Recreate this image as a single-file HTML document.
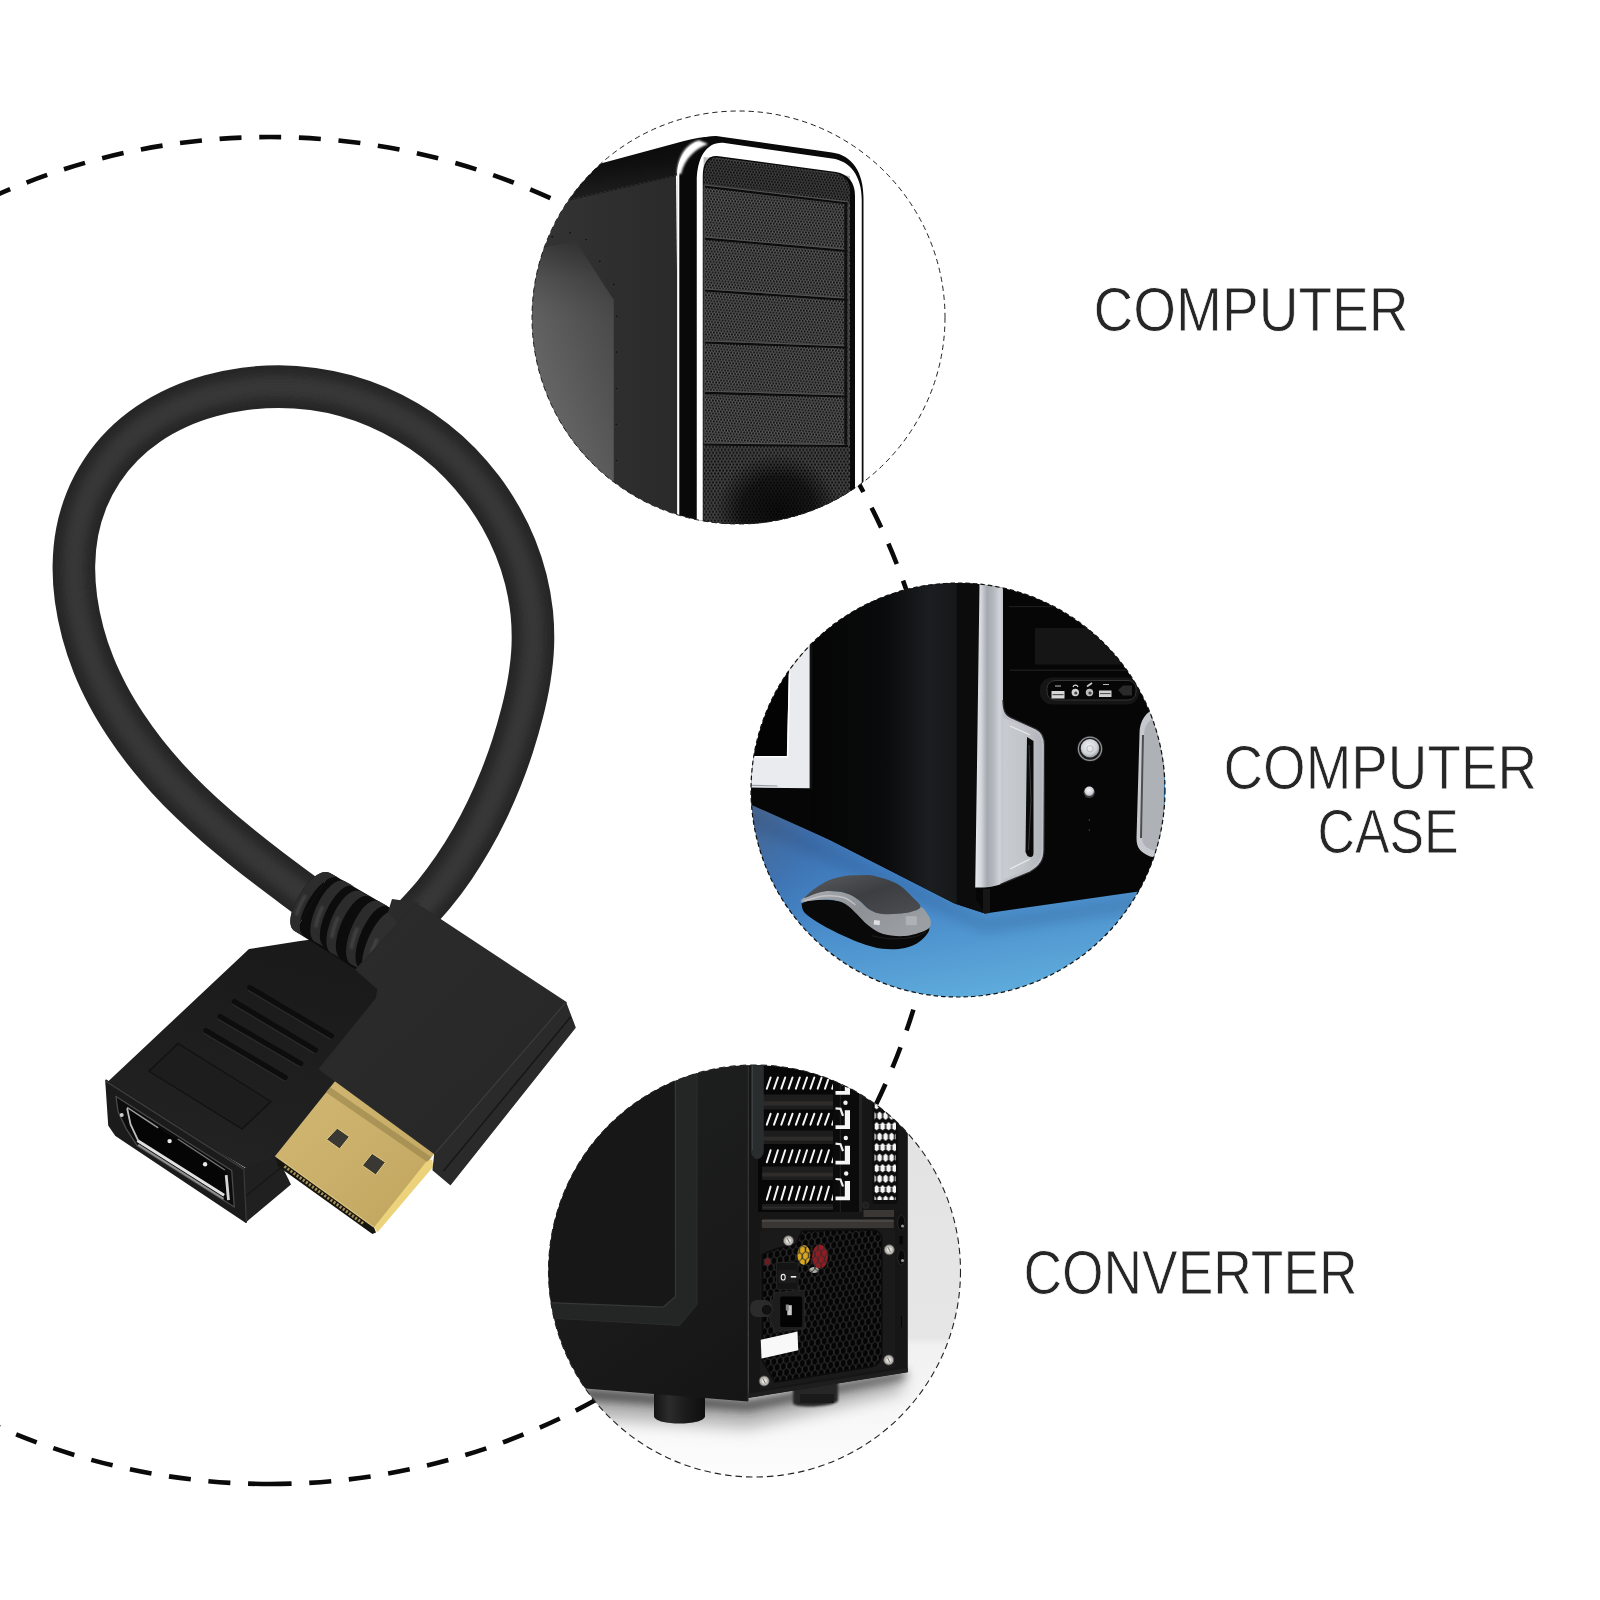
<!DOCTYPE html>
<html><head><meta charset="utf-8"><title>DisplayPort adapter</title>
<style>
html,body{margin:0;padding:0;background:#fff;}
body{width:1600px;height:1600px;overflow:hidden;font-family:"Liberation Sans",sans-serif;}
svg{display:block;}
</style></head><body>
<svg width="1600" height="1600" viewBox="0 0 1600 1600">
<defs>
<clipPath id="clip1"><circle cx="738.5" cy="317.5" r="206.5"/></clipPath>
<clipPath id="clip2"><circle cx="958.0" cy="790.0" r="207.0"/></clipPath>
<clipPath id="clip3"><circle cx="754.5" cy="1271.0" r="206.0"/></clipPath>
<filter id="blur2" x="-20%" y="-20%" width="140%" height="140%"><feGaussianBlur stdDeviation="2"/></filter>
<filter id="blur4" x="-20%" y="-20%" width="140%" height="140%"><feGaussianBlur stdDeviation="4"/></filter>
<filter id="blur8" x="-30%" y="-30%" width="160%" height="160%"><feGaussianBlur stdDeviation="8"/></filter>
<filter id="blur1" x="-20%" y="-20%" width="140%" height="140%"><feGaussianBlur stdDeviation="1"/></filter>
</defs>
<path d="M270.0,1484.0 A673.5,673.5 0 1 1 270.0,137.0 A673.5,673.5 0 1 1 270.0,1484.0" fill="none" stroke="#0a0a0a" stroke-width="4.6" stroke-dasharray="22 17.714" stroke-dashoffset="0"/>
<defs>
<linearGradient id="gold" x1="0" y1="0" x2="1" y2="1"><stop offset="0" stop-color="#d2b873"/><stop offset="0.5" stop-color="#c9af6a"/><stop offset="1" stop-color="#bfa45c"/></linearGradient>
<linearGradient id="maleTop" gradientUnits="userSpaceOnUse" x1="360" y1="950" x2="520" y2="1120"><stop offset="0" stop-color="#2b2b2b"/><stop offset="1" stop-color="#272727"/></linearGradient>
<linearGradient id="femTop" gradientUnits="userSpaceOnUse" x1="250" y1="950" x2="200" y2="1150"><stop offset="0" stop-color="#1a1a1a"/><stop offset="1" stop-color="#222222"/></linearGradient>
</defs>
<g id="cable">
<path d="M322.0,907.8 C317.5,904.5 303.9,894.5 294.9,887.8 C285.9,881.1 276.9,874.4 268.0,867.6 C259.1,860.8 250.2,853.8 241.5,846.8 C232.8,839.8 224.1,832.7 215.7,825.3 C207.3,817.9 199.0,810.3 190.9,802.5 C182.8,794.7 174.9,786.6 167.3,778.3 C159.7,769.9 152.3,761.3 145.3,752.4 C138.3,743.5 131.6,734.2 125.4,724.8 C119.2,715.3 113.3,705.7 108.0,695.7 C102.7,685.7 97.8,675.5 93.6,665.0 C89.4,654.5 85.7,643.6 82.8,632.6 C79.9,621.6 77.5,610.2 76.0,599.0 C74.5,587.8 73.7,576.3 73.9,565.1 C74.1,553.9 75.1,542.6 77.2,531.7 C79.3,520.8 82.5,510.1 86.6,499.9 C90.7,489.7 96.0,479.8 102.0,470.7 C108.0,461.6 115.0,452.9 122.8,445.1 C130.6,437.3 139.3,430.2 148.5,423.9 C157.7,417.6 167.8,412.1 178.1,407.4 C188.4,402.7 199.4,398.9 210.5,395.8 C221.6,392.7 233.1,390.3 244.5,388.8 C255.9,387.3 267.6,386.6 279.0,386.6 C290.4,386.6 301.8,387.5 313.0,389.0 C324.2,390.5 335.2,392.8 346.0,395.8 C356.8,398.8 367.4,402.5 377.6,406.9 C387.8,411.3 397.8,416.4 407.4,422.0 C417.0,427.6 426.3,433.9 435.1,440.8 C443.9,447.7 452.3,455.1 460.1,463.1 C467.9,471.1 475.2,479.7 482.0,488.7 C488.8,497.7 495.0,507.2 500.6,517.0 C506.2,526.8 511.2,537.1 515.4,547.5 C519.6,557.9 523.2,568.7 525.9,579.6 C528.6,590.5 530.6,601.6 531.8,612.7 C532.9,623.8 533.2,635.1 532.8,646.3 C532.4,657.5 531.0,668.7 529.2,679.8 C527.4,690.9 524.9,702.1 522.1,713.1 C519.3,724.1 516.1,735.2 512.6,746.0 C509.1,756.8 505.2,767.6 501.0,778.1 C496.8,788.6 492.3,799.0 487.4,809.2 C482.5,819.4 477.3,829.5 471.7,839.2 C466.1,848.9 460.2,858.4 453.9,867.6 C447.6,876.8 440.9,885.8 433.9,894.4 C426.8,903.0 415.3,915.1 411.6,919.2" fill="none" stroke="#272727" stroke-width="42.6" stroke-linecap="butt"/>
<path d="M322.0,907.8 C317.5,904.5 303.9,894.5 294.9,887.8 C285.9,881.1 276.9,874.4 268.0,867.6 C259.1,860.8 250.2,853.8 241.5,846.8 C232.8,839.8 224.1,832.7 215.7,825.3 C207.3,817.9 199.0,810.3 190.9,802.5 C182.8,794.7 174.9,786.6 167.3,778.3 C159.7,769.9 152.3,761.3 145.3,752.4 C138.3,743.5 131.6,734.2 125.4,724.8 C119.2,715.3 113.3,705.7 108.0,695.7 C102.7,685.7 97.8,675.5 93.6,665.0 C89.4,654.5 85.7,643.6 82.8,632.6 C79.9,621.6 77.5,610.2 76.0,599.0 C74.5,587.8 73.7,576.3 73.9,565.1 C74.1,553.9 75.1,542.6 77.2,531.7 C79.3,520.8 82.5,510.1 86.6,499.9 C90.7,489.7 96.0,479.8 102.0,470.7 C108.0,461.6 115.0,452.9 122.8,445.1 C130.6,437.3 139.3,430.2 148.5,423.9 C157.7,417.6 167.8,412.1 178.1,407.4 C188.4,402.7 199.4,398.9 210.5,395.8 C221.6,392.7 233.1,390.3 244.5,388.8 C255.9,387.3 267.6,386.6 279.0,386.6 C290.4,386.6 301.8,387.5 313.0,389.0 C324.2,390.5 335.2,392.8 346.0,395.8 C356.8,398.8 367.4,402.5 377.6,406.9 C387.8,411.3 397.8,416.4 407.4,422.0 C417.0,427.6 426.3,433.9 435.1,440.8 C443.9,447.7 452.3,455.1 460.1,463.1 C467.9,471.1 475.2,479.7 482.0,488.7 C488.8,497.7 495.0,507.2 500.6,517.0 C506.2,526.8 511.2,537.1 515.4,547.5 C519.6,557.9 523.2,568.7 525.9,579.6 C528.6,590.5 530.6,601.6 531.8,612.7 C532.9,623.8 533.2,635.1 532.8,646.3 C532.4,657.5 531.0,668.7 529.2,679.8 C527.4,690.9 524.9,702.1 522.1,713.1 C519.3,724.1 516.1,735.2 512.6,746.0 C509.1,756.8 505.2,767.6 501.0,778.1 C496.8,788.6 492.3,799.0 487.4,809.2 C482.5,819.4 477.3,829.5 471.7,839.2 C466.1,848.9 460.2,858.4 453.9,867.6 C447.6,876.8 440.9,885.8 433.9,894.4 C426.8,903.0 415.3,915.1 411.6,919.2" fill="none" stroke="#383838" stroke-width="22" stroke-linecap="butt" filter="url(#blur4)" opacity="0.95"/>
<polygon points="105.4,1084.0 249.0,949.0 300.0,941.0 368.0,932.0 400.0,985.0 330.0,1071.0 345.0,1090.0 285.0,1160.0 245.7,1168.0" fill="url(#femTop)"/>
<polygon points="106.2,1080.6 243.6,1168.4 246.0,1222.0 116.0,1135.1 109.2,1125.3" fill="#1b1b1b" stroke="#1b1b1b" stroke-width="2" stroke-linejoin="round"/>
<polyline points="106.2,1081.4 243.6,1169.2" fill="none" stroke="#3a3a3a" stroke-width="1.6"/>
<polygon points="243.5,1168.4 246.3,1222.0 291.0,1184.5 277.0,1156.0" fill="#202020"/>
<polyline points="243.8,1169.0 246.3,1221.0" fill="none" stroke="#3a3a3a" stroke-width="1.2"/>
<polyline points="246.0,1196.0 284.0,1165.0" fill="none" stroke="#161616" stroke-width="1.2"/>
<polygon points="116.0,1096.5 231.7,1170.5 234.3,1207.0 137.1,1145.6 126.1,1128.6 118.0,1111.5" fill="#0c0c0c" stroke="#4a4a4a" stroke-width="1.3" stroke-linejoin="round"/>
<polygon points="126.1,1106.6 225.7,1172.4 228.1,1200.9 138.8,1141.6 129.8,1124.5" fill="#050505"/>
<polyline points="137.4,1140.4 177.8,1165.9 224.1,1195.2" fill="none" stroke="#e2e2e2" stroke-width="3" stroke-linejoin="round"/>
<polyline points="138.1,1144.8 223.6,1198.9" fill="none" stroke="#8f8f8f" stroke-width="2"/>
<polyline points="226.2,1175.2 228.5,1200.1" fill="none" stroke="#d4d4d4" stroke-width="2.8"/>
<polyline points="127.1,1107.4 158.2,1127.8" fill="none" stroke="#9a9a9a" stroke-width="1.4"/>
<polyline points="127.1,1108.2 130.6,1124.5 138.3,1140.8" fill="none" stroke="#bdbdbd" stroke-width="1.8"/>
<polyline points="177.8,1139.1 224.9,1170.0" fill="none" stroke="#777" stroke-width="1.2"/>
<circle cx="169.6" cy="1141.1" r="2.2" fill="#e8e8e8"/>
<circle cx="205.1" cy="1164.3" r="2.2" fill="#e8e8e8"/>
<circle cx="121.7" cy="1115.1" r="2" fill="#d0d0d0"/>
<line x1="249.7" y1="987.3" x2="331.6" y2="1036.0" stroke="#0d0d0d" stroke-width="5" stroke-linecap="round"/>
<line x1="248.2" y1="990.5" x2="330.1" y2="1039.2" stroke="#2e2e2e" stroke-width="1" stroke-linecap="round"/>
<line x1="234.3" y1="1001.5" x2="315.5" y2="1050.0" stroke="#0d0d0d" stroke-width="5" stroke-linecap="round"/>
<line x1="232.8" y1="1004.7" x2="314.0" y2="1053.2" stroke="#2e2e2e" stroke-width="1" stroke-linecap="round"/>
<line x1="220.0" y1="1016.5" x2="300.8" y2="1063.5" stroke="#0d0d0d" stroke-width="5" stroke-linecap="round"/>
<line x1="218.5" y1="1019.7" x2="299.3" y2="1066.7" stroke="#2e2e2e" stroke-width="1" stroke-linecap="round"/>
<line x1="205.8" y1="1030.5" x2="285.3" y2="1077.5" stroke="#0d0d0d" stroke-width="5" stroke-linecap="round"/>
<line x1="204.3" y1="1033.7" x2="283.8" y2="1080.7" stroke="#2e2e2e" stroke-width="1" stroke-linecap="round"/>
<polygon points="178.0,1043.5 149.0,1071.2 242.0,1129.0 271.0,1101.5" fill="#1d1d1d" stroke="#111" stroke-width="1.2"/>
<polygon points="275.4,1155.7 277.6,1165.9 372.4,1233.9 376.0,1232.4 373.8,1226.9" fill="#17150f"/>
<polygon points="338.0,1077.4 439.6,1147.2 431.4,1157.3 374.6,1227.2 275.4,1155.7" fill="url(#gold)"/>
<polygon points="427.4,1160.2 432.2,1159.4 433.2,1166.8 377.3,1232.4 374.2,1227.2" fill="#ecd27a"/>
<polyline points="284.4,1166.4 364.0,1224.1" fill="none" stroke="#a8935a" stroke-width="3" stroke-dasharray="2.1 1.7"/>
<polyline points="275.4,1155.9 373.8,1227.0" fill="none" stroke="#d9c27c" stroke-width="1.2"/>
<polygon points="329.9,1087.1 431.4,1157.3 427.4,1161.9 325.8,1092.3" fill="#8f7c45" opacity="0.55"/>
<polygon points="337.2,1128.2 349.4,1136.7 339.6,1148.9 326.6,1139.5" fill="#3a3833" stroke="#e2cc85" stroke-width="1" stroke-linejoin="round"/>
<polygon points="372.1,1153.4 385.4,1162.2 375.7,1174.9 362.4,1165.5" fill="#3a3833" stroke="#e2cc85" stroke-width="1" stroke-linejoin="round"/>
<polygon points="330.0,873.1 396.5,911.5 416.5,921.5 388.0,987.0 368.0,977.0 295.0,931.2" fill="#0c0c0c"/>
<path d="M330.0,873.1 C312.9,862.8 277.9,920.9 295.0,931.2 Z" fill="#0c0c0c"/>
<path d="M345.0,881.2 C326.9,872.8 298.1,934.0 316.2,942.5 Z" fill="#0c0c0c"/>
<path d="M360.0,891.2 C341.7,883.2 314.2,945.7 332.5,953.8 Z" fill="#0c0c0c"/>
<path d="M378.8,901.2 C360.3,893.6 334.0,957.4 352.5,965.0 Z" fill="#0c0c0c"/>
<path d="M396.5,911.5 C378.2,903.5 349.7,969.0 368.0,977.0 Z" fill="#0c0c0c"/>
<path d="M330.0,873.1 C312.9,862.8 277.9,920.9 295.0,931.2 L304.5,936.4 C287.4,926.1 322.4,867.9 339.5,878.3 Z" fill="#2c2c2c"/>
<path d="M334.8,875.7 C317.6,865.4 282.6,923.5 299.8,933.8" fill="none" stroke="#4a4a4a" stroke-width="3.2" stroke-dasharray="0 38 22 200" filter="url(#blur1)" opacity="0.8"/>
<path d="M345.0,881.2 C326.9,872.8 298.1,934.0 316.2,942.5 L325.8,947.7 C307.7,939.2 336.4,877.9 354.5,886.4 Z" fill="#2c2c2c"/>
<path d="M349.8,883.8 C331.7,875.3 302.9,936.6 321.0,945.1" fill="none" stroke="#4a4a4a" stroke-width="3.2" stroke-dasharray="0 38 22 200" filter="url(#blur1)" opacity="0.8"/>
<path d="M360.0,891.2 C341.7,883.2 314.2,945.7 332.5,953.8 L342.0,958.9 C323.7,950.9 351.2,888.4 369.5,896.4 Z" fill="#2c2c2c"/>
<path d="M364.8,893.8 C346.5,885.8 319.0,948.3 337.3,956.3" fill="none" stroke="#4a4a4a" stroke-width="3.2" stroke-dasharray="0 38 22 200" filter="url(#blur1)" opacity="0.8"/>
<path d="M378.8,901.2 C360.3,893.6 334.0,957.4 352.5,965.0 L362.0,970.2 C343.5,962.5 369.8,898.8 388.3,906.4 Z" fill="#2c2c2c"/>
<path d="M383.5,903.8 C365.0,896.2 338.8,960.0 357.3,967.6" fill="none" stroke="#4a4a4a" stroke-width="3.2" stroke-dasharray="0 38 22 200" filter="url(#blur1)" opacity="0.8"/>
<path d="M396.5,911.5 C378.2,903.5 349.7,969.0 368.0,977.0 L394.5,991.3 C376.1,983.4 404.6,917.9 423.0,925.8 Z" fill="#2f2f2f"/>
<path d="M403.6,915.3 C385.2,907.3 356.7,972.8 375.1,980.8" fill="none" stroke="#4a4a4a" stroke-width="3.2" stroke-dasharray="0 38 22 200" filter="url(#blur1)" opacity="0.8"/>
<polygon points="392,899 420,903 400,925 388,912" fill="#2b2b2b"/>
<polygon points="565.6,1002.7 575.0,1027.6 450.4,1184.4 433.2,1170.0 435.0,1153.5" fill="#2a2a2a" stroke="#2a2a2a" stroke-width="1.5" stroke-linejoin="round"/>
<polyline points="570.5,1017.0 443.5,1171.0" fill="none" stroke="#171717" stroke-width="1.5"/>
<path d="M412,908.4 Q416,903.6 421.2,907.4 L565.6,1002.7 L435,1153.5 L319.75,1069 L376.5,999 L378.5,989 L356.5,969.4 Z" fill="url(#maleTop)" stroke="#2a2a2a" stroke-width="2" stroke-linejoin="round"/>
<polyline points="565.0,1003.5 435.5,1153.0" fill="none" stroke="#3b3b3b" stroke-width="1.3"/>
</g>
<defs>
<pattern id="mesh1" width="3" height="5.2" patternUnits="userSpaceOnUse" patternTransform="rotate(6)"><rect width="3" height="5.2" fill="#5c5c5c"/><circle cx="0.75" cy="1.3" r="1.05" fill="#0c0c0c"/><circle cx="2.25" cy="3.9" r="1.05" fill="#0c0c0c"/></pattern>
<pattern id="mesh1b" width="3.4" height="5.9" patternUnits="userSpaceOnUse"><rect width="3.4" height="5.9" fill="#4e4e4e"/><circle cx="0.85" cy="1.475" r="1.25" fill="#111"/><circle cx="2.55" cy="4.425" r="1.25" fill="#111"/></pattern>
<linearGradient id="c1side" x1="0" y1="0" x2="1" y2="0"><stop offset="0" stop-color="#353535"/><stop offset="0.6" stop-color="#2e2e2e"/><stop offset="1" stop-color="#2a2a2a"/></linearGradient>
<linearGradient id="c1top" x1="0" y1="0" x2="0.25" y2="1"><stop offset="0" stop-color="#040404"/><stop offset="0.5" stop-color="#101010"/><stop offset="0.85" stop-color="#1e1e1e"/><stop offset="1" stop-color="#262626"/></linearGradient>
<linearGradient id="c1light" gradientUnits="userSpaceOnUse" x1="530" y1="340" x2="616" y2="310"><stop offset="0" stop-color="#646464"/><stop offset="0.5" stop-color="#565656"/><stop offset="1" stop-color="#484848"/></linearGradient>
<linearGradient id="c1lightTop" gradientUnits="userSpaceOnUse" x1="0" y1="243" x2="0" y2="320"><stop offset="0" stop-color="#000" stop-opacity="0.34"/><stop offset="0.45" stop-color="#000" stop-opacity="0.12"/><stop offset="0.8" stop-color="#000" stop-opacity="0.025"/><stop offset="1" stop-color="#000" stop-opacity="0"/></linearGradient>
<radialGradient id="c1fan" cx="0.5" cy="0.5" r="0.5"><stop offset="0" stop-color="#000" stop-opacity="0.8"/><stop offset="0.6" stop-color="#000" stop-opacity="0.6"/><stop offset="1" stop-color="#000" stop-opacity="0"/></radialGradient>
</defs>
<circle cx="738.5" cy="317.5" r="206.5" fill="#fff"/>
<g clip-path="url(#clip1)">
<polygon points="520,211 676,175.5 680,560 520,560" fill="url(#c1side)"/>
<path d="M520,185 L560,174.6 L684,141 Q703,135.5 722,137 L700,150 L680,176 L676,175.5 L520,211 Z" fill="url(#c1top)"/>
<line x1="520" y1="211.3" x2="676" y2="175.7" stroke="#1b1b1b" stroke-width="1"/>
<polygon points="520,251.5 544,247.5 576.25,242.25 613.75,300 613.75,560 520,560" fill="url(#c1light)"/>
<polygon points="520,251.5 544,247.5 576.25,242.25 613.75,300 613.75,320 520,320" fill="url(#c1lightTop)"/>
<circle cx="552.2" cy="236.7" r="1.7" fill="#1a1a1a" stroke="#444" stroke-width="0.6"/>
<circle cx="570.2" cy="232.8" r="1.7" fill="#1a1a1a" stroke="#444" stroke-width="0.6"/>
<circle cx="586.0" cy="239.6" r="1.7" fill="#1a1a1a" stroke="#444" stroke-width="0.6"/>
<circle cx="599.8" cy="261.3" r="1.7" fill="#1a1a1a" stroke="#444" stroke-width="0.6"/>
<circle cx="613.8" cy="284.5" r="1.7" fill="#1a1a1a" stroke="#444" stroke-width="0.6"/>
<circle cx="616.5" cy="316.2" r="1.7" fill="#1a1a1a" stroke="#444" stroke-width="0.6"/>
<circle cx="616.5" cy="352.2" r="1.7" fill="#1a1a1a" stroke="#444" stroke-width="0.6"/>
<circle cx="616.5" cy="388.5" r="1.7" fill="#1a1a1a" stroke="#444" stroke-width="0.6"/>
<circle cx="616.5" cy="424.5" r="1.7" fill="#1a1a1a" stroke="#444" stroke-width="0.6"/>
<circle cx="616.5" cy="460.5" r="1.7" fill="#1a1a1a" stroke="#444" stroke-width="0.6"/>
<circle cx="616.5" cy="496.5" r="1.7" fill="#1a1a1a" stroke="#444" stroke-width="0.6"/>
<path d="M677,560 L677,172 C677,150 692,136 716,136 L832,152.5 C852,155 863.5,172 863.5,198 L863.5,560 Z" fill="#090909"/>
<path d="M678.2,560 L678.2,172 C679,160 686,149 697,143" fill="none" stroke="#fff" stroke-width="2.2"/>
<path d="M696.75,560 L696.75,182 C696.75,158 706,142 723,142.8 L832,158.6 C850,161 861.75,176 861.75,200 L861.75,560 Z" fill="#fff"/>
<path d="M677.3,174 C677.6,156 686,144 699,140.2 L708,144 C695,149 685,158 681,174 Z" fill="#fff" filter="url(#blur1)"/>
<path d="M702.75,560 L702.75,176 C702.75,163 708,155.4 717,156 L836,172 C848,174 855,182 855,196 L855,560 Z" fill="#0a0a0a"/>
<path d="M703.6,560 L703.6,177 C703.6,165 708.5,157 717,157.4 L834,173 C844,174.6 850,181 850,192 L850,560 Z" fill="url(#mesh1)"/>
<polygon points="703.6,157 850,176 850,202.2 703.6,185.2" fill="#000" opacity="0.25"/>
<polygon points="703.6,445.2 850,446.8 850,560 703.6,560" fill="url(#mesh1b)"/>
<ellipse cx="778" cy="512" rx="62" ry="58" fill="url(#c1fan)"/>
<polygon points="703.6,445.2 850,446.8 850,560 703.6,560" fill="#000" opacity="0.06"/>
<line x1="704.3" y1="186.4" x2="848.2" y2="203.4" stroke="#0c0c0c" stroke-width="2.4"/>
<line x1="704.3" y1="184.8" x2="848.2" y2="201.8" stroke="#505050" stroke-width="1.3"/>
<line x1="704.3" y1="238.5" x2="848.2" y2="250.9" stroke="#0c0c0c" stroke-width="2.4"/>
<line x1="704.3" y1="236.9" x2="848.2" y2="249.3" stroke="#505050" stroke-width="1.3"/>
<line x1="704.3" y1="290.4" x2="848.2" y2="299.7" stroke="#0c0c0c" stroke-width="2.4"/>
<line x1="704.3" y1="288.8" x2="848.2" y2="298.1" stroke="#505050" stroke-width="1.3"/>
<line x1="704.3" y1="342.4" x2="848.2" y2="347.4" stroke="#0c0c0c" stroke-width="2.4"/>
<line x1="704.3" y1="340.9" x2="848.2" y2="345.8" stroke="#505050" stroke-width="1.3"/>
<line x1="704.3" y1="392.7" x2="848.2" y2="396.4" stroke="#0c0c0c" stroke-width="2.4"/>
<line x1="704.3" y1="391.1" x2="848.2" y2="394.9" stroke="#505050" stroke-width="1.3"/>
<line x1="704.3" y1="444.4" x2="848.2" y2="445.9" stroke="#0c0c0c" stroke-width="2.4"/>
<line x1="704.3" y1="442.9" x2="848.2" y2="444.4" stroke="#505050" stroke-width="1.3"/>
<line x1="704.3" y1="185.2" x2="704.3" y2="443.2" stroke="#454545" stroke-width="1.2"/>
<line x1="848.2" y1="202.2" x2="848.2" y2="444.8" stroke="#454545" stroke-width="1.2"/>
<line x1="845.8" y1="202.2" x2="845.8" y2="444.8" stroke="#111" stroke-width="3"/>
</g>
<circle cx="738.5" cy="317.5" r="206.5" fill="none" stroke="#222" stroke-width="1" stroke-dasharray="5.3 3.8"/>
<defs>
<linearGradient id="desk" gradientUnits="userSpaceOnUse" x1="900" y1="800" x2="930" y2="1000"><stop offset="0" stop-color="#3a70b4"/><stop offset="0.45" stop-color="#4384c6"/><stop offset="1" stop-color="#5eaadb"/></linearGradient>
<linearGradient id="deskL" gradientUnits="userSpaceOnUse" x1="750" y1="800" x2="860" y2="900"><stop offset="0" stop-color="#4a6488" stop-opacity="0.95"/><stop offset="0.5" stop-color="#3f6ea8" stop-opacity="0.6"/><stop offset="1" stop-color="#4384c6" stop-opacity="0"/></linearGradient>
<linearGradient id="silver" gradientUnits="userSpaceOnUse" x1="976" y1="0" x2="1004" y2="0"><stop offset="0" stop-color="#e3e6ea"/><stop offset="0.18" stop-color="#d4d7dc"/><stop offset="0.4" stop-color="#a4a8af"/><stop offset="0.62" stop-color="#b4b8be"/><stop offset="0.85" stop-color="#d0d3d8"/><stop offset="1" stop-color="#bcc0c6"/></linearGradient>
<linearGradient id="handle" gradientUnits="userSpaceOnUse" x1="1000" y1="0" x2="1045" y2="0"><stop offset="0" stop-color="#c9ccd1"/><stop offset="0.5" stop-color="#c2c6cb"/><stop offset="1" stop-color="#aeb2b8"/></linearGradient>
<linearGradient id="sideG" gradientUnits="userSpaceOnUse" x1="810" y1="0" x2="980" y2="0"><stop offset="0" stop-color="#050505"/><stop offset="0.45" stop-color="#0a0b0c"/><stop offset="0.7" stop-color="#1b1d20"/><stop offset="0.86" stop-color="#16181a"/><stop offset="0.865" stop-color="#0b0b0c"/><stop offset="1" stop-color="#0d0d0e"/></linearGradient>
<radialGradient id="pbtn" cx="0.45" cy="0.4" r="0.6"><stop offset="0" stop-color="#f2f3f5"/><stop offset="0.7" stop-color="#cfd2d6"/><stop offset="1" stop-color="#9a9da2"/></radialGradient>
<linearGradient id="mouseTop" x1="0" y1="0" x2="1" y2="1"><stop offset="0" stop-color="#5a5d61"/><stop offset="0.5" stop-color="#3c3e41"/><stop offset="1" stop-color="#4b4d50"/></linearGradient>
<linearGradient id="mouseBand" x1="0" y1="0" x2="1" y2="0.6"><stop offset="0" stop-color="#a9acb0"/><stop offset="0.5" stop-color="#8d9094"/><stop offset="1" stop-color="#9b9ea2"/></linearGradient>
</defs>
<circle cx="958.0" cy="790.0" r="207.0" fill="#fff"/>
<g clip-path="url(#clip2)">
<rect x="740" y="780" width="440" height="230" fill="url(#desk)"/>
<rect x="740" y="780" width="200" height="200" fill="url(#deskL)"/>
<polygon points="745,806 985,918 1180,890 1180,905 985,934 745,826" fill="#1a2f55" opacity="0.12" filter="url(#blur4)"/>
<polygon points="740,560 1180,560 1180,885.5 1136.5,891.75 985,913.5 954.5,903.5 830,840 745,802 740,800" fill="#060606"/>
<polygon points="811,560 979,560 976,900 985,913.5 954.5,903.5 830,840 811,831" fill="url(#sideG)"/>
<polygon points="983,889 990,889 990,913 985,913.5 983,912.8" fill="#161616"/>
<polygon points="740.0,645.0 809.8,645.0 809.8,788.2 740.0,787.5" fill="#e9ebef"/>
<polygon points="740.0,645.0 788.8,672.0 786.8,756.0 740.0,756.0" fill="#030303"/>
<polygon points="740.0,630.0 789.5,630.0 788.8,673.5 740.0,673.5" fill="#030303"/>
<polyline points="740.0,756.8 787.7,756.8 789.5,673.5" fill="none" stroke="#fff" stroke-width="1.5"/>
<polyline points="740.0,785.2 777.5,786.0" fill="none" stroke="#9a9da2" stroke-width="1.2"/>
<polygon points="809.8,643.5 812.3,643.5 812.3,789.3 809.8,788.7" fill="#111"/>
<path d="M979.8,560 L1003,560 L1003,700 C1003,712 1006,716 1014,719 L1036,729 C1042,732 1044.5,737 1044.5,745 L1044,850 C1044,860 1040,866 1030,872 L1000,884.5 C994,886.5 988,887.5 984,887.5 L975.2,887.5 L976.8,780 Z" fill="url(#silver)"/>
<path d="M1003,718 L1014,722 L1034,731 C1040,734 1042,738 1042,745 L1041.5,850 C1041.5,858 1038,863 1030,868 L1003,880 Z" fill="url(#handle)"/>
<path d="M1010,726 L1030,735" stroke="#e9ebee" stroke-width="1.2" fill="none"/>
<path d="M1010,869 L1030,859" stroke="#e9ebee" stroke-width="1.2" fill="none"/>
<path d="M1027,737 L1033.5,741 L1033.5,853 C1033.5,857 1031,858 1027.5,856 L1025.5,852 Z" fill="#0a0a0a"/>
<path d="M1029,745 L1031,800 L1028.5,850" stroke="#3a3a3a" stroke-width="1" fill="none"/>
<path d="M1003,700 C1003,712 1006,716 1014,719 L1036,729 C1042,732 1044.5,737 1044.5,745 L1044,850 C1044,860 1040,866 1030,872 L1000,884.5" fill="none" stroke="#2a2a2a" stroke-width="1.2"/>
<rect x="1009" y="606" width="180" height="1.2" fill="#1c1c1c"/>
<rect x="1035" y="628" width="90" height="36.5" fill="#151515"/>
<rect x="1010" y="669.5" width="180" height="1.5" fill="#1a1a1a"/>
<rect x="1040" y="677.5" width="99" height="27" rx="12" fill="#151515"/>
<rect x="1047" y="680.5" width="89" height="19.5" rx="8" fill="#060606" stroke="#3a3a3a" stroke-width="0.9"/>
<rect x="1051.5" y="691" width="13" height="7.5" fill="#d8d8d8"/><rect x="1052.5" y="694" width="11" height="1.2" fill="#555"/>
<rect x="1099" y="690.5" width="12.5" height="6.5" fill="#d0d0d0"/><rect x="1100" y="693" width="10.5" height="1.1" fill="#555"/>
<circle cx="1075.3" cy="692.5" r="3.7" fill="#cfcfcf"/><circle cx="1075.8" cy="693" r="1.6" fill="#444"/>
<circle cx="1089.5" cy="692.5" r="3.7" fill="#bdbdbd"/><circle cx="1090" cy="693" r="1.6" fill="#444"/>
<path d="M1073,687 a2.6,2.6 0 0 1 5,0" stroke="#ddd" stroke-width="1.1" fill="none"/>
<path d="M1087,686.5 l5,-3.5" stroke="#ccc" stroke-width="1.6" fill="none"/>
<path d="M1055,686 l6,0 M1103,684.5 l6,0" stroke="#bbb" stroke-width="1" fill="none"/>
<polygon points="1118,690 1123,685.5 1132,685.5 1132,695.5 1123,695.5" fill="#2a2a2a"/>
<circle cx="1090" cy="748.8" r="13" fill="#1d1d1d"/>
<circle cx="1090" cy="748.8" r="11.6" fill="none" stroke="#8e9196" stroke-width="1.3"/>
<circle cx="1090" cy="748.3" r="9.2" fill="url(#pbtn)"/>
<circle cx="1090" cy="748.8" r="3.2" fill="none" stroke="#b0b3b7" stroke-width="0.8"/>
<circle cx="1089.3" cy="792.3" r="5.8" fill="#3a3a3a"/>
<circle cx="1089.3" cy="791.3" r="4.8" fill="url(#pbtn)"/>
<circle cx="1089.3" cy="820" r="0.7" fill="#555"/><circle cx="1089.3" cy="830" r="0.8" fill="#444"/>
<path d="M1180,706 L1158,708 C1146,711 1139.5,720 1139.5,734 L1136.5,838 C1136.5,848 1140,852 1150,856.5 L1180,862 Z" fill="#c5c8cd"/>
<path d="M1180,716 L1156,718 C1148,720 1144,726 1144,736 L1142,836 C1142,843 1144,847 1152,850 L1180,855 Z" fill="#aeb2b7"/>
<path d="M1143,735 L1141,838" stroke="#4b4d50" stroke-width="2" fill="none"/>
<polygon points="1160,700 1180,700 1180,870 1163,866 1164,780" fill="#2f83c9"/>
<path d="M801.5,903.5 C802.2,905.2 801.2,909.7 806.0,914.0 C810.8,918.3 821.0,924.5 830.0,929.3 C839.0,934.1 851.2,939.5 860.0,942.8 C868.8,946.0 875.0,947.9 882.5,948.8 C890.0,949.7 898.8,949.3 905.0,948.0 C911.2,946.8 916.0,944.5 920.0,941.3 C924.0,938.1 929.3,932.5 929.3,929.0 C929.3,925.5 929.0,922.5 920.0,920.0 C911.0,917.5 887.5,917.0 875.0,914.0 C862.5,911.0 855.0,904.4 845.0,902.0 C835.0,899.6 822.2,899.5 815.0,899.8 C807.8,900.0 803.8,902.9 801.5,903.5 Z" fill="#090909"/>
<path d="M800.5,902.3 C801.1,901.5 800.6,899.4 804.5,897.5 C808.4,895.6 817.2,892.0 824.0,891.2 C830.8,890.4 839.4,891.4 845.0,892.7 C850.6,894.1 853.8,896.5 857.8,899.3 C861.8,902.0 864.9,906.8 869.0,909.2 C873.1,911.6 876.5,913.1 882.5,913.7 C888.5,914.3 898.8,913.9 905.0,912.8 C911.2,911.7 916.1,906.5 920.0,907.0 C923.9,907.4 926.6,912.6 928.4,915.5 C930.2,918.4 931.4,922.0 930.8,924.5 C930.2,927.0 929.1,928.9 924.8,930.8 C920.5,932.7 912.0,935.5 905.0,936.0 C898.0,936.5 888.8,935.7 882.5,933.8 C876.2,931.9 871.8,928.0 867.5,924.8 C863.2,921.5 860.8,917.8 857.0,914.3 C853.2,910.8 849.5,906.2 845.0,903.8 C840.5,901.3 835.0,900.2 830.0,899.6 C825.0,899.0 819.9,899.8 815.0,900.2 C810.1,900.7 802.9,901.9 800.5,902.3 Z" fill="url(#mouseBand)"/>
<path d="M803.8,898.2 C805.6,896.6 810.6,891.6 815.0,888.5 C819.4,885.4 825.0,881.9 830.0,879.8 C835.0,877.7 840.0,876.8 845.0,876.0 C850.0,875.3 855.0,875.3 860.0,875.3 C865.0,875.3 868.8,874.6 875.0,876.0 C881.2,877.5 891.2,880.5 897.5,884.0 C903.8,887.5 908.7,893.3 912.5,897.2 C916.3,901.1 921.5,904.8 920.3,907.4 C919.0,910.0 911.3,911.9 905.0,913.0 C898.7,914.0 888.5,914.5 882.5,913.9 C876.5,913.2 873.4,911.8 869.3,909.4 C865.2,907.0 862.1,902.2 858.0,899.5 C854.0,896.7 850.7,894.2 845.0,892.9 C839.3,891.5 830.9,890.5 824.0,891.4 C817.1,892.2 807.1,897.1 803.8,898.2 Z" fill="url(#mouseTop)"/>
<path d="M804.5,900.8 C807.8,900.0 817.5,896.5 824.0,896.0 C830.5,895.5 838.2,896.0 843.5,897.5 C848.8,899.0 853.5,903.8 855.5,905.0" fill="none" stroke="#c9ccd0" stroke-width="1.4" opacity="0.8"/>
<rect x="874.2" y="920.0" width="6" height="4.5" fill="#e4e6e9" opacity="0.9" transform="rotate(8 874.2 920.0)"/>
<rect x="905.8" y="916.2" width="11" height="9" fill="#b5b8bc" opacity="0.75"/>
<path d="M872.0,935.8 C875.0,936.2 883.2,938.5 890.0,938.8 C896.8,939.0 906.5,938.4 912.5,937.2 C918.5,936.1 923.8,932.9 926.0,932.0" fill="none" stroke="#2a2a2a" stroke-width="1" opacity="0.7"/>
</g>
<circle cx="958.0" cy="790.0" r="207.0" fill="none" stroke="#111" stroke-width="1.2" stroke-dasharray="4.5 3"/>
<defs>
<linearGradient id="c3bg" x1="0" y1="0" x2="0" y2="1"><stop offset="0" stop-color="#e2e2e2"/><stop offset="0.66" stop-color="#e6e6e6"/><stop offset="0.68" stop-color="#f1f1f1"/><stop offset="1" stop-color="#fdfdfd"/></linearGradient>
<linearGradient id="c3side" gradientUnits="userSpaceOnUse" x1="550" y1="1100" x2="750" y2="1400"><stop offset="0" stop-color="#1e1f1f"/><stop offset="0.6" stop-color="#1a1a1a"/><stop offset="1" stop-color="#151515"/></linearGradient>
<linearGradient id="c3shadow" gradientUnits="userSpaceOnUse" x1="0" y1="1392" x2="0" y2="1432"><stop offset="0" stop-color="#4a4a4a" stop-opacity="0.9"/><stop offset="0.4" stop-color="#8a8a8a" stop-opacity="0.55"/><stop offset="1" stop-color="#e8e8e8" stop-opacity="0"/></linearGradient>
<linearGradient id="foot" x1="0" y1="0" x2="1" y2="0"><stop offset="0" stop-color="#141414"/><stop offset="0.3" stop-color="#2c2c2c"/><stop offset="0.6" stop-color="#1c1c1c"/><stop offset="1" stop-color="#0e0e0e"/></linearGradient>
<pattern id="hexp" width="6.30" height="12.60" patternUnits="userSpaceOnUse" patternTransform="translate(796,1229) skewY(-9)"><path d="M0,0 H6.30 V12.60 H0 Z M3.15,-0.65 L5.60,1.25 L5.60,5.05 L3.15,6.95 L0.70,5.05 L0.70,1.25 Z M0.00,5.65 L2.45,7.55 L2.45,11.35 L0.00,13.25 L-2.45,11.35 L-2.45,7.55 Z M6.30,5.65 L8.75,7.55 L8.75,11.35 L6.30,13.25 L3.85,11.35 L3.85,7.55 Z M0.00,-6.95 L2.45,-5.05 L2.45,-1.25 L0.00,0.65 L-2.45,-1.25 L-2.45,-5.05 Z M6.30,-6.95 L8.75,-5.05 L8.75,-1.25 L6.30,0.65 L3.85,-1.25 L3.85,-5.05 Z M3.15,11.95 L5.60,13.85 L5.60,17.65 L3.15,19.55 L0.70,17.65 L0.70,13.85 Z" fill="#2d2d2d" fill-rule="evenodd"/></pattern>
<pattern id="hexw" width="6.00" height="21.00" patternUnits="userSpaceOnUse" patternTransform="translate(873.6,1100)"><rect width="6.00" height="21.00" fill="#0d0d0d"/><path d="M3.00,1.05 L5.25,3.15 L5.25,7.35 L3.00,9.45 L0.75,7.35 L0.75,3.15 Z" fill="#f6f6f6"/><path d="M0.00,11.55 L2.25,13.65 L2.25,17.85 L0.00,19.95 L-2.25,17.85 L-2.25,13.65 Z" fill="#f6f6f6"/><path d="M6.00,11.55 L8.25,13.65 L8.25,17.85 L6.00,19.95 L3.75,17.85 L3.75,13.65 Z" fill="#f6f6f6"/><path d="M0.00,-9.45 L2.25,-7.35 L2.25,-3.15 L0.00,-1.05 L-2.25,-3.15 L-2.25,-7.35 Z" fill="#f6f6f6"/><path d="M6.00,-9.45 L8.25,-7.35 L8.25,-3.15 L6.00,-1.05 L3.75,-3.15 L3.75,-7.35 Z" fill="#f6f6f6"/><path d="M3.00,22.05 L5.25,24.15 L5.25,28.35 L3.00,30.45 L0.75,28.35 L0.75,24.15 Z" fill="#f6f6f6"/></pattern>
</defs>
<circle cx="754.5" cy="1271.0" r="206.0" fill="#fff"/>
<g clip-path="url(#clip3)">
<rect x="540" y="1060" width="430" height="420" fill="url(#c3bg)"/>
<polygon points="575,1386 748,1400 906,1371 900,1392 748,1428 590,1418" fill="#777" opacity="0.55" filter="url(#blur8)"/>
<polygon points="580,1387 748,1400 906,1371 904,1379 748,1411 585,1400" fill="#2a2a2a" opacity="0.7" filter="url(#blur4)"/>
<path d="M654,1392 L705,1394 L705,1416 C705,1421 692,1423.5 679.5,1423.5 C667,1423.5 654,1421 654,1416 Z" fill="url(#foot)"/>
<path d="M793,1384 L838,1382 L838,1400 C838,1407 793,1409 793,1403 Z" fill="#262626" filter="url(#blur1)"/>
<rect x="800" y="1394" width="34" height="9" fill="#1a1a1a"/>
<polygon points="540,1060 748.5,1060 748,1401.5 585,1388.5 540,1385" fill="url(#c3side)"/>
<polygon points="697.0,1060.0 697.0,1304.5 679.5,1325.5 540.0,1317.2 540.0,1302.2 663.0,1307.2 675.5,1296.7 675.5,1060.0" fill="#242525"/>
<polygon points="540.0,1060.0 674.4,1060.0 674.4,1295.8 662.2,1306.0 540.0,1301.2" fill="#171717"/>
<polyline points="675.5,1060.0 675.5,1296.7 663.0,1307.2 540.0,1302.2" fill="none" stroke="#363737" stroke-width="1.2"/>
<polyline points="697.0,1060.0 697.0,1304.5 679.5,1325.5 540.0,1317.5" fill="none" stroke="#2c2c2c" stroke-width="1"/>
<line x1="748.3" y1="1060" x2="748" y2="1401" stroke="#2e2e2e" stroke-width="1.2"/>
<polygon points="748.8,1060 907.8,1060 907.8,1372 748.4,1397.8" fill="#161616"/>
<rect x="758" y="1066" width="101" height="146" fill="#070707"/>
<rect x="762.2" y="1094.5" width="71.2" height="15.0" fill="#1d1d1d"/>
<rect x="762.2" y="1101.2" width="71.2" height="4.5" fill="#2d2c2b"/>
<rect x="762.2" y="1130.5" width="71.2" height="13.5" fill="#1d1d1d"/>
<rect x="762.2" y="1136.6" width="71.2" height="4.0" fill="#2d2c2b"/>
<rect x="762.2" y="1166.5" width="71.2" height="13.5" fill="#1d1d1d"/>
<rect x="762.2" y="1172.6" width="71.2" height="4.0" fill="#2d2c2b"/>
<rect x="762.2" y="1204.0" width="71.2" height="6.0" fill="#1d1d1d"/>
<rect x="762.2" y="1206.7" width="71.2" height="1.8" fill="#2d2c2b"/>
<line x1="770.6" y1="1077.5" x2="766.8" y2="1088.7" stroke="#f5f5f5" stroke-width="2" stroke-linecap="round"/>
<line x1="777.9" y1="1077.5" x2="774.0" y2="1088.7" stroke="#f5f5f5" stroke-width="2" stroke-linecap="round"/>
<line x1="785.2" y1="1077.5" x2="781.3" y2="1088.7" stroke="#f5f5f5" stroke-width="2" stroke-linecap="round"/>
<line x1="792.5" y1="1077.5" x2="788.6" y2="1088.7" stroke="#f5f5f5" stroke-width="2" stroke-linecap="round"/>
<line x1="799.8" y1="1077.5" x2="795.9" y2="1088.7" stroke="#f5f5f5" stroke-width="2" stroke-linecap="round"/>
<line x1="807.0" y1="1077.5" x2="803.1" y2="1088.7" stroke="#f5f5f5" stroke-width="2" stroke-linecap="round"/>
<line x1="814.3" y1="1077.5" x2="810.4" y2="1088.7" stroke="#f5f5f5" stroke-width="2" stroke-linecap="round"/>
<line x1="821.6" y1="1077.5" x2="817.7" y2="1088.7" stroke="#f5f5f5" stroke-width="2" stroke-linecap="round"/>
<line x1="828.9" y1="1077.5" x2="825.0" y2="1088.7" stroke="#f5f5f5" stroke-width="2" stroke-linecap="round"/>
<line x1="836.1" y1="1077.5" x2="832.2" y2="1088.7" stroke="#f5f5f5" stroke-width="2" stroke-linecap="round"/>
<line x1="770.6" y1="1113.8" x2="766.8" y2="1124.7" stroke="#f5f5f5" stroke-width="2" stroke-linecap="round"/>
<line x1="777.9" y1="1113.8" x2="774.0" y2="1124.7" stroke="#f5f5f5" stroke-width="2" stroke-linecap="round"/>
<line x1="785.2" y1="1113.8" x2="781.3" y2="1124.7" stroke="#f5f5f5" stroke-width="2" stroke-linecap="round"/>
<line x1="792.5" y1="1113.8" x2="788.6" y2="1124.7" stroke="#f5f5f5" stroke-width="2" stroke-linecap="round"/>
<line x1="799.8" y1="1113.8" x2="795.9" y2="1124.7" stroke="#f5f5f5" stroke-width="2" stroke-linecap="round"/>
<line x1="807.0" y1="1113.8" x2="803.1" y2="1124.7" stroke="#f5f5f5" stroke-width="2" stroke-linecap="round"/>
<line x1="814.3" y1="1113.8" x2="810.4" y2="1124.7" stroke="#f5f5f5" stroke-width="2" stroke-linecap="round"/>
<line x1="821.6" y1="1113.8" x2="817.7" y2="1124.7" stroke="#f5f5f5" stroke-width="2" stroke-linecap="round"/>
<line x1="828.9" y1="1113.8" x2="825.0" y2="1124.7" stroke="#f5f5f5" stroke-width="2" stroke-linecap="round"/>
<line x1="836.1" y1="1113.8" x2="832.2" y2="1124.7" stroke="#f5f5f5" stroke-width="2" stroke-linecap="round"/>
<line x1="770.6" y1="1150.2" x2="766.8" y2="1162.2" stroke="#f5f5f5" stroke-width="2" stroke-linecap="round"/>
<line x1="777.9" y1="1150.2" x2="774.0" y2="1162.2" stroke="#f5f5f5" stroke-width="2" stroke-linecap="round"/>
<line x1="785.2" y1="1150.2" x2="781.3" y2="1162.2" stroke="#f5f5f5" stroke-width="2" stroke-linecap="round"/>
<line x1="792.5" y1="1150.2" x2="788.6" y2="1162.2" stroke="#f5f5f5" stroke-width="2" stroke-linecap="round"/>
<line x1="799.8" y1="1150.2" x2="795.9" y2="1162.2" stroke="#f5f5f5" stroke-width="2" stroke-linecap="round"/>
<line x1="807.0" y1="1150.2" x2="803.1" y2="1162.2" stroke="#f5f5f5" stroke-width="2" stroke-linecap="round"/>
<line x1="814.3" y1="1150.2" x2="810.4" y2="1162.2" stroke="#f5f5f5" stroke-width="2" stroke-linecap="round"/>
<line x1="821.6" y1="1150.2" x2="817.7" y2="1162.2" stroke="#f5f5f5" stroke-width="2" stroke-linecap="round"/>
<line x1="828.9" y1="1150.2" x2="825.0" y2="1162.2" stroke="#f5f5f5" stroke-width="2" stroke-linecap="round"/>
<line x1="836.1" y1="1150.2" x2="832.2" y2="1162.2" stroke="#f5f5f5" stroke-width="2" stroke-linecap="round"/>
<line x1="770.6" y1="1186.6" x2="766.8" y2="1199.7" stroke="#f5f5f5" stroke-width="2" stroke-linecap="round"/>
<line x1="777.9" y1="1186.6" x2="774.0" y2="1199.7" stroke="#f5f5f5" stroke-width="2" stroke-linecap="round"/>
<line x1="785.2" y1="1186.6" x2="781.3" y2="1199.7" stroke="#f5f5f5" stroke-width="2" stroke-linecap="round"/>
<line x1="792.5" y1="1186.6" x2="788.6" y2="1199.7" stroke="#f5f5f5" stroke-width="2" stroke-linecap="round"/>
<line x1="799.8" y1="1186.6" x2="795.9" y2="1199.7" stroke="#f5f5f5" stroke-width="2" stroke-linecap="round"/>
<line x1="807.0" y1="1186.6" x2="803.1" y2="1199.7" stroke="#f5f5f5" stroke-width="2" stroke-linecap="round"/>
<line x1="814.3" y1="1186.6" x2="810.4" y2="1199.7" stroke="#f5f5f5" stroke-width="2" stroke-linecap="round"/>
<line x1="821.6" y1="1186.6" x2="817.7" y2="1199.7" stroke="#f5f5f5" stroke-width="2" stroke-linecap="round"/>
<line x1="828.9" y1="1186.6" x2="825.0" y2="1199.7" stroke="#f5f5f5" stroke-width="2" stroke-linecap="round"/>
<line x1="836.1" y1="1186.6" x2="832.2" y2="1199.7" stroke="#f5f5f5" stroke-width="2" stroke-linecap="round"/>
<path d="M751,1060 L763.8,1060 L763.8,1150 C763.8,1156 760,1159 757.4,1159 C754.5,1159 751,1156 751,1150 Z" fill="#2a2d2d"/>
<line x1="752.5" y1="1062" x2="752.5" y2="1150" stroke="#3c4040" stroke-width="1"/>
<rect x="833" y="1066" width="26" height="146" fill="#0b0b0b"/>
<line x1="840.3" y1="1066" x2="840.3" y2="1212" stroke="#2a2a2a" stroke-width="0.8"/>
<path d="M844.8,1080.0 L850.0,1080.0 L850.0,1094.8 L835.5,1094.8 L835.5,1091.0 L844.8,1091.0 L844.8,1080.0 Z" fill="#f6f6f6"/>
<path d="M835.5,1078.0 l5,0.5 l2.5,7" fill="none" stroke="#f0f0f0" stroke-width="2.2"/>
<path d="M844.8,1110.3 L850.0,1110.3 L850.0,1129.0 L835.5,1129.0 L835.5,1125.2 L844.8,1125.2 L844.8,1110.3 Z" fill="#f6f6f6"/>
<path d="M835.5,1108.3 l5,0.5 l2.5,7" fill="none" stroke="#f0f0f0" stroke-width="2.2"/>
<path d="M844.8,1145.7 L850.0,1145.7 L850.0,1164.5 L835.5,1164.5 L835.5,1160.8 L844.8,1160.8 L844.8,1145.7 Z" fill="#f6f6f6"/>
<path d="M835.5,1143.7 l5,0.5 l2.5,7" fill="none" stroke="#f0f0f0" stroke-width="2.2"/>
<path d="M844.8,1181.0 L850.0,1181.0 L850.0,1200.2 L835.5,1200.2 L835.5,1196.5 L844.8,1196.5 L844.8,1181.0 Z" fill="#f6f6f6"/>
<path d="M835.5,1179.0 l5,0.5 l2.5,7" fill="none" stroke="#f0f0f0" stroke-width="2.2"/>
<circle cx="845.5" cy="1102.8" r="2.2" fill="#f2f2f2"/>
<circle cx="845.8" cy="1138.0" r="2.2" fill="#f2f2f2"/>
<circle cx="846.2" cy="1173.5" r="2.2" fill="#f2f2f2"/>
<rect x="859" y="1066" width="3.2" height="146" fill="#222"/>
<rect x="872.5" y="1100" width="25.5" height="104" rx="3" fill="#0d0d0d"/>
<rect x="874.5" y="1104" width="21.5" height="96" fill="url(#hexw)"/>
<rect x="863.5" y="1210.0" width="30.5" height="7" fill="#3b3735"/>
<rect x="761.8" y="1219.3" width="132.0" height="10" rx="1.5" fill="#393634"/>
<rect x="761.8" y="1219.9" width="132.0" height="2" fill="#4a4745"/>
<rect x="761.8" y="1228.0" width="132.0" height="2.5" fill="#1a1a1a"/>
<circle cx="865.8" cy="1205.2" r="3.2" fill="#1f1f1f" stroke="#333" stroke-width="0.6"/>
<ellipse cx="901.3" cy="1222.8" rx="3.6" ry="7.5" fill="#0a0a0a" stroke="#2c2c2c" stroke-width="0.8"/>
<circle cx="902.5" cy="1226.0" r="1.5" fill="#999"/>
<ellipse cx="901.3" cy="1257.2" rx="3.6" ry="7.5" fill="#0a0a0a" stroke="#2c2c2c" stroke-width="0.8"/>
<circle cx="902.5" cy="1260.5" r="1.5" fill="#999"/>
<rect x="899.5" y="1236.2" width="3.2" height="8" fill="#060606"/>
<rect x="900.2" y="1315.0" width="2.6" height="13" rx="1.3" fill="#050505" stroke="#2a2a2a" stroke-width="0.6"/>
<polygon points="760.0,1231.0 895.0,1231.0 895.0,1367.5 760.0,1390.0" fill="#1a1a1a"/>
<path d="M802.0,1231.0 L871.0,1229.8 Q881.5,1230.2 881.8,1240.0 L881.8,1354.0 Q880.8,1365.2 871.0,1366.8 L775.0,1382.2 L762.2,1360.0 L762.2,1255.0 Q775.0,1247.5 796.0,1244.5 Z" fill="#050505"/>
<ellipse cx="803.8" cy="1255.0" rx="6.5" ry="10" fill="#d9a81e" opacity="1"/>
<ellipse cx="820.0" cy="1256.5" rx="8" ry="12" fill="#a01f26" opacity="0.9"/>
<ellipse cx="767.5" cy="1261.8" rx="3.5" ry="4" fill="#7a1d22" opacity="0.9"/>
<ellipse cx="814.0" cy="1270.0" rx="5" ry="3" fill="#d8d8d0" opacity="0.8"/>
<path d="M802.0,1231.0 L871.0,1229.8 Q881.5,1230.2 881.8,1240.0 L881.8,1354.0 Q880.8,1365.2 871.0,1366.8 L775.0,1382.2 L762.2,1360.0 L762.2,1255.0 Q775.0,1247.5 796.0,1244.5 Z" fill="url(#hexp)"/>
<path d="M802.0,1231.0 L871.0,1229.8 Q881.5,1230.2 881.8,1240.0 L881.8,1354.0 Q880.8,1365.2 871.0,1366.8 L775.0,1382.2 L762.2,1360.0 L762.2,1255.0 Q775.0,1247.5 796.0,1244.5 Z" fill="none" stroke="#0c0c0c" stroke-width="1.6"/>
<rect x="776.5" y="1262.5" width="21.5" height="27" rx="1.5" fill="#141414" stroke="#262626" stroke-width="0.8"/>
<rect x="778.3" y="1270.0" width="18" height="13" fill="#1c1c1c"/>
<ellipse cx="783.2" cy="1277.2" rx="2" ry="2.8" fill="none" stroke="#eee" stroke-width="1.1"/>
<rect x="790.8" y="1276.0" width="5.5" height="1.6" fill="#eee"/>
<path d="M775.0,1292.5 L804.2,1290.2 L805.0,1328.5 L775.0,1331.5 L768.2,1315.0 Z" fill="#1d1d1d" stroke="#2b2b2b" stroke-width="0.8"/>
<rect x="780.2" y="1296.5" width="22" height="30.5" rx="2" fill="#030303"/>
<rect x="787.3" y="1305.2" width="4.5" height="10" fill="#c9c9c9"/>
<rect x="785.8" y="1304.5" width="3" height="6" fill="#8a8a8a"/>
<rect x="750.2" y="1300.0" width="22" height="17" rx="7" fill="#2b2b2b"/>
<circle cx="766.8" cy="1309.8" r="5.5" fill="#111" stroke="#333" stroke-width="0.8"/>
<polygon points="760.75,1339.75 797.5,1331.5 798.25,1350.25 761.5,1358.5" fill="#f8f8f8"/>
<circle cx="788.5" cy="1240.8" r="5" fill="#b9b6b0" stroke="#555" stroke-width="0.8"/>
<circle cx="788.5" cy="1240.8" r="2.6" fill="#e3e1dc"/>
<line x1="787.3" y1="1238.3" x2="789.7" y2="1243.2" stroke="#6a6863" stroke-width="0.9"/>
<circle cx="889.3" cy="1249.8" r="5" fill="#b9b6b0" stroke="#555" stroke-width="0.8"/>
<circle cx="889.3" cy="1249.8" r="2.6" fill="#e3e1dc"/>
<line x1="888.1" y1="1247.3" x2="890.5" y2="1252.2" stroke="#6a6863" stroke-width="0.9"/>
<circle cx="888.7" cy="1360.0" r="5" fill="#b9b6b0" stroke="#555" stroke-width="0.8"/>
<circle cx="888.7" cy="1360.0" r="2.6" fill="#e3e1dc"/>
<line x1="887.5" y1="1357.6" x2="889.9" y2="1362.4" stroke="#6a6863" stroke-width="0.9"/>
<circle cx="764.2" cy="1381.0" r="5" fill="#b9b6b0" stroke="#555" stroke-width="0.8"/>
<circle cx="764.2" cy="1381.0" r="2.6" fill="#e3e1dc"/>
<line x1="763.0" y1="1378.6" x2="765.4" y2="1383.4" stroke="#6a6863" stroke-width="0.9"/>
<polygon points="748.4,1393.5 907.8,1368 907.8,1372.3 748.4,1398" fill="#1e1e1e"/>
</g>
<circle cx="754.5" cy="1271.0" r="206.0" fill="none" stroke="#222" stroke-width="1.1" stroke-dasharray="6.5 4"/>
<text x="1093.5" y="331.1" font-family="Liberation Sans, sans-serif" font-size="62.2" fill="#262626" stroke="#fff" stroke-width="0.8" textLength="315.0" lengthAdjust="spacingAndGlyphs">COMPUTER</text>
<text x="1223.5" y="788.6" font-family="Liberation Sans, sans-serif" font-size="62.2" fill="#262626" stroke="#fff" stroke-width="0.8" textLength="313.5" lengthAdjust="spacingAndGlyphs">COMPUTER</text>
<text x="1317.5" y="852.6" font-family="Liberation Sans, sans-serif" font-size="62.2" fill="#262626" stroke="#fff" stroke-width="0.8" textLength="141.0" lengthAdjust="spacingAndGlyphs">CASE</text>
<text x="1023.5" y="1294.2" font-family="Liberation Sans, sans-serif" font-size="62.2" fill="#262626" stroke="#fff" stroke-width="0.8" textLength="334.0" lengthAdjust="spacingAndGlyphs">CONVERTER</text>
</svg>
</body></html>
